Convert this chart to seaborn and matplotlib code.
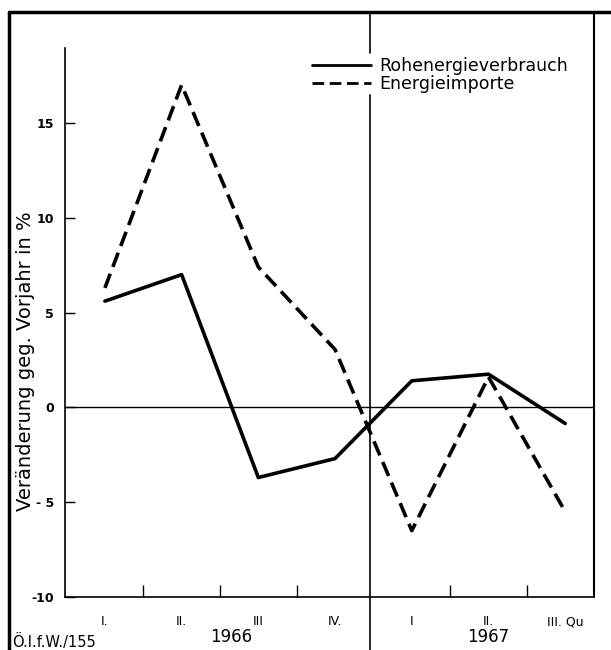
import pandas as pd
import seaborn as sns
import matplotlib.pyplot as plt
from matplotlib.lines import Line2D
import matplotlib.transforms as mtransforms

quarters = ["I.", "II.", "III", "IV.", "I", "II.", "III. Qu"]
years = ["1966", "1967"]
roh = [5.6, 7.0, -3.7, -2.7, 1.4, 1.75, -0.85]
imp = [6.3, 17.0, 7.4, 3.05, -6.5, 1.6, -5.5]
series = ["Rohenergieverbrauch", "Energieimporte"]

df = pd.DataFrame({
    "pos": list(range(len(quarters))) * 2,
    "wert": roh + imp,
    "reihe": [series[0]] * len(roh) + [series[1]] * len(imp),
})

sns.set_style("white")
plt.rcParams["font.family"] = ["DejaVu Sans"]
plt.rcParams["text.color"] = "black"
plt.rcParams["xtick.color"] = "black"
plt.rcParams["ytick.color"] = "black"

W, H = 611, 650
fig = plt.figure(figsize=(6.11, 6.5), dpi=100)
ax = fig.add_axes([65 / W, 1 - 597 / H, (594 - 65) / W, (597 - 48) / H])

dash = (4.2, 2.0)
sns.lineplot(data=df, x="pos", y="wert", style="reihe", color="black",
             dashes={series[0]: "", series[1]: dash},
             linewidth=2.6, legend=False, ax=ax)

ax.axhline(0, color="black", lw=1)
ax.set_xlim(-0.52, 6.375)
ax.set_ylim(-10, 18.95)

# spines
ax.spines["top"].set_visible(False)
ax.spines["right"].set_visible(False)
for s in ("left", "bottom"):
    ax.spines[s].set_color("black")
    ax.spines[s].set_linewidth(1.2)

# ticks
ax.set_xticks(range(len(quarters)))
ax.set_xticklabels(quarters, fontsize=9)
ax.set_xticks([0.5, 1.5, 2.5, 4.5, 5.5], minor=True)
ax.tick_params(axis="x", which="major", bottom=True, length=0, pad=13)
ax.tick_params(axis="x", which="minor", bottom=True, direction="in",
               length=9, width=1)
ax.set_yticks([-10, -5, 0, 5, 10, 15])
ax.set_yticklabels(["-10", "- 5", "0", "5", "10", "15"], fontsize=9,
                   fontweight="bold")
ax.tick_params(axis="y", left=True, direction="in", length=7, width=1,
               pad=8)
ax.set_xlabel("")
ax.set_ylabel("")

# frame and divider lines
blend_x = mtransforms.blended_transform_factory(ax.transData, fig.transFigure)
blend_ax = mtransforms.blended_transform_factory(ax.transAxes, fig.transFigure)
fig.add_artist(Line2D([9 / W, 1], [1 - 12 / H, 1 - 12 / H],
                      transform=fig.transFigure, color="black", lw=2.5))
fig.add_artist(Line2D([9 / W, 9 / W], [0, 1 - 12 / H],
                      transform=fig.transFigure, color="black", lw=2.5))
fig.add_artist(Line2D([1, 1], [1 - 597 / H, 1 - 12 / H],
                      transform=blend_ax, color="black", lw=1.5))
fig.add_artist(Line2D([3.45, 3.45], [1 - 95 / H, 0],
                      transform=blend_x, color="black", lw=1.2))
fig.add_artist(Line2D([3.45, 3.45], [1 - 53 / H, 1 - 12 / H],
                      transform=blend_x, color="black", lw=1.2))

# legend
handles = [Line2D([], [], color="black", lw=2, ls="-"),
           Line2D([], [], color="black", lw=2, ls=(0, dash))]
fig.legend(handles, series, loc="upper left",
           bbox_to_anchor=(312 / W, 1 - 57 / H), bbox_transform=fig.transFigure,
           frameon=False, fontsize=12.5, handlelength=3.4, handletextpad=0.5,
           labelspacing=0.0, borderpad=0, borderaxespad=0)

# texts
fig.text(26 / W, 1 - 361 / H, "Veränderung geg. Vorjahr in %", rotation=90,
         ha="center", va="center", fontsize=14)
fig.text(1.65, 1 - 637 / H, years[0], transform=blend_x, ha="center",
         va="center", fontsize=12)
fig.text(5.0, 1 - 637 / H, years[1], transform=blend_x, ha="center",
         va="center", fontsize=12)
fig.text(12 / W, 1 - 642 / H, "Ö.I.f.W./155", ha="left", va="center",
         fontsize=10.5)

plt.savefig("out.png", dpi=100)
